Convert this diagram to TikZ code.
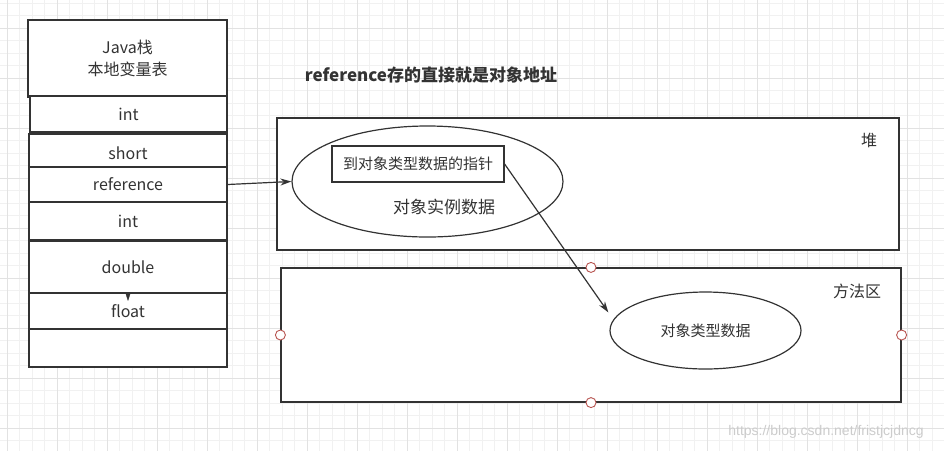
\documentclass[tikz,border=0pt]{standalone}
\usepackage{fontspec}
\setmainfont{Liberation Sans}
\newfontfamily\cjk{Noto Sans CJK SC}
\usepackage{xcolor}
\usepackage{tikz}
\usetikzlibrary{shapes.geometric, arrows.meta, positioning}

\definecolor{ink}{HTML}{333333}
\definecolor{gridminor}{HTML}{F1F1F1}
\definecolor{gridmajor}{HTML}{E2E2E2}
\definecolor{handlered}{HTML}{B85450}

\begin{document}
\begin{tikzpicture}[
  x=1pt, y=-1pt,
  cell/.style={draw=ink, line width=1.2pt, fill=white,
               minimum width=198pt, inner sep=0pt,
               font=\cjk\fontsize{16}{22}\selectfont, text=ink, align=center},
  region/.style={draw=ink, line width=1.2pt, fill=white, inner sep=0pt},
  blob/.style={ellipse, draw=ink, line width=1.2pt, inner sep=0pt, text=ink},
  tag/.style={font=\cjk\fontsize{16}{20}\selectfont, text=ink},
  handle/.style={circle, draw=handlered, fill=white, line width=0.9pt,
                 minimum size=10pt, inner sep=0pt},
  arrow/.style={-{Stealth[length=11pt, width=7pt]}, line width=1.2pt, draw=ink}
]
\useasboundingbox (0,0) rectangle (944,451);
\fill[white] (0,0) rectangle (944,451);

% background grid
\foreach \gx in {7.3,19.8,...,944} \draw[gridminor, line width=0.8pt] (\gx,0) -- (\gx,451);
\foreach \gy in {3,15.5,...,451} \draw[gridminor, line width=0.8pt] (0,\gy) -- (944,\gy);
\foreach \gx in {7.3,57.3,...,944} \draw[gridmajor, line width=0.8pt] (\gx,0) -- (\gx,451);
\foreach \gy in {28,78,...,451} \draw[gridmajor, line width=0.8pt] (0,\gy) -- (944,\gy);

% Java stack
\node[cell, minimum width=199pt, minimum height=77pt] (javastack) at (127.5,58.5) {Java栈\\本地变量表};
\node[cell, minimum width=197pt, minimum height=36pt] (int1)      at (128.5,114) {int};
\node[cell, minimum height=38pt] (short)     at (128,153)   {short};
\node[cell, minimum height=35pt] (reference) at (128,184.5) {reference};
\node[cell, minimum height=38pt] (int2)      at (128,221)   {int};
\node[cell, minimum height=52pt] (double)    at (128,267)   {double};
\node[cell, minimum height=36pt] (float)     at (128,311)   {float};
\node[cell, minimum height=38pt] (spare)     at (128,348)   {};
\coordinate (floattip) at (128,301);
\draw[-{Triangle[length=8pt, width=5pt]}, draw=ink] (double.south) -- (floattip);

\node[font=\cjk\bfseries\fontsize{17}{20}\selectfont, text=ink] (title) at (431,75) {reference存的直接就是对象地址};

% heap
\node[region, minimum width=622pt, minimum height=132pt] (heap) at (588,184) {};
\node[tag] (heaplabel) at (869,140) {堆};
\node[blob, minimum width=271pt, minimum height=111pt] (instance) at (427.5,181.5) {};
\node[region, minimum width=172pt, minimum height=36pt, font=\cjk\fontsize{15}{18}\selectfont, text=ink] (pointer) at (418,164) {到对象类型数据的指针};
\node[tag, font=\cjk\fontsize{17}{20}\selectfont] (instancelabel) at (444,207) {对象实例数据};

% method area
\node[region, minimum width=620pt, minimum height=134pt] (method) at (591,335) {};
\node[tag] (methodlabel) at (857,291) {方法区};
\node[blob, minimum width=191pt, minimum height=77pt, font=\cjk\fontsize{15}{18}\selectfont] (typedata) at (705.5,330.5) {对象类型数据};
\node[handle] (hn) at (method.north) {};
\node[handle] (hw) at (method.west) {};
\node[handle] (he) at (method.east) {};
\node[handle] (hs) at (method.south) {};

\draw[arrow] (reference.east) -- (instance.west);
\draw[arrow] (pointer.east) -- ([xshift=-12pt]typedata.168);

\node[font=\fontsize{14}{16}\selectfont, text=gray!40] (mark) at (826,432) {https://blog.csdn.net/fristjcjdncg};
\end{tikzpicture}
\end{document}
